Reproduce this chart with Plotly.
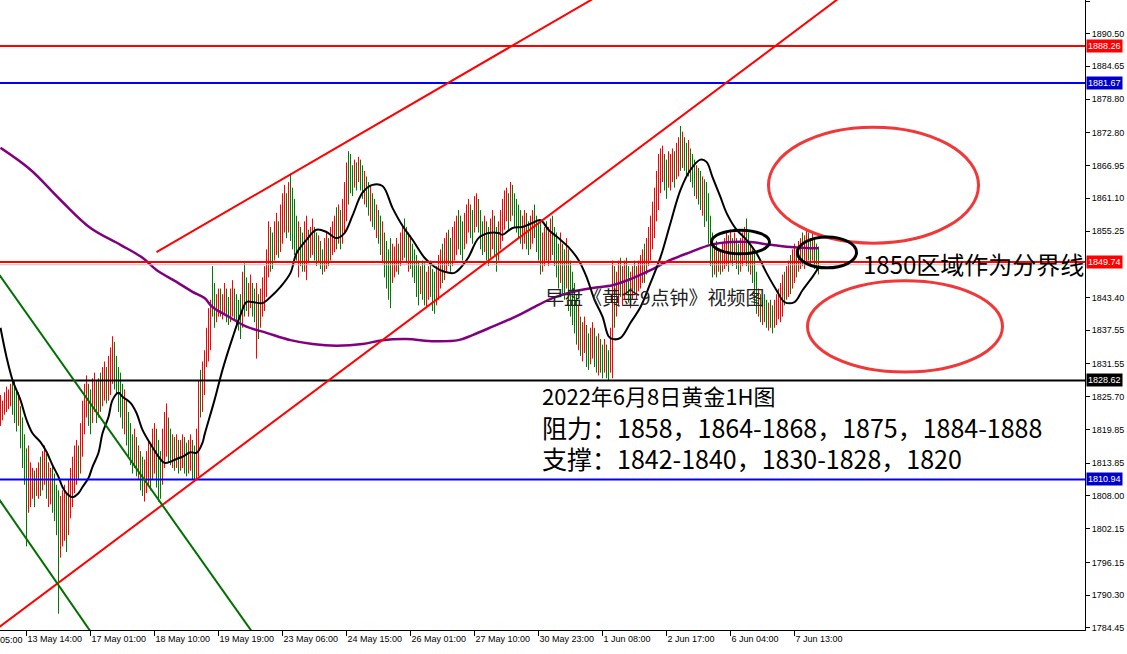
import plotly.graph_objects as go

# ---------------- data ----------------
bar_high = [
    1826.0, 1825.0, 1826.5, 1827.5, 1827.0, 1828.0, 1829.0, 1828.5, 1827.0, 1826.5,
    1824, 1822, 1819, 1816.5, 1817, 1814, 1813, 1812.5, 1813, 1814,
    1815, 1816, 1817, 1815.5, 1814, 1813, 1813.5, 1812, 1810, 1809,
    1808, 1809, 1810, 1808.5, 1811, 1813, 1815, 1817, 1818, 1817,
    1821, 1825, 1828, 1829.5, 1828, 1827, 1829, 1830, 1828.5, 1829,
    1830, 1831, 1832, 1831, 1833, 1834.5, 1836.5, 1835.5, 1833, 1831,
    1830, 1828, 1827, 1825, 1823, 1821, 1819, 1820, 1818.5, 1817,
    1816, 1815, 1814.5, 1816, 1818, 1817.5, 1820, 1821, 1820, 1818,
    1816, 1820, 1823, 1824.5, 1822, 1820, 1819, 1818.5, 1819, 1818,
    1818, 1819, 1818.5, 1817.5, 1818, 1819, 1818, 1817, 1820, 1828.5,
    1830.5, 1832, 1834, 1838, 1841.5, 1843, 1849, 1846, 1844, 1845,
    1845, 1844, 1846, 1845, 1843.5, 1845, 1846.5, 1845, 1844, 1843,
    1844, 1848, 1849.5, 1847, 1846, 1847.5, 1846, 1845, 1846, 1844,
    1845, 1847, 1849, 1852, 1857, 1856, 1855, 1857, 1858.5, 1857,
    1860, 1862, 1863.5, 1862, 1864, 1865.5, 1863, 1861, 1858, 1857,
    1856, 1855, 1857, 1858, 1855.5, 1856, 1857.5, 1856, 1855, 1854.5,
    1853.5, 1852, 1854, 1855, 1854, 1856, 1857, 1858, 1859.5, 1860,
    1859, 1861, 1864, 1867.5, 1869.5, 1869, 1867, 1868, 1867.5, 1868.5,
    1868, 1867, 1866, 1865, 1864, 1863.5, 1862, 1861, 1860, 1859,
    1858, 1857, 1855, 1853.5, 1852, 1854, 1853, 1852.5, 1854, 1853,
    1855, 1856, 1857.5, 1856, 1855, 1854.5, 1853, 1852, 1851, 1850,
    1849, 1850, 1849.5, 1848, 1849, 1850, 1848.5, 1848, 1849, 1851,
    1852, 1853, 1854, 1855, 1855.5, 1854, 1856, 1857, 1858, 1859,
    1858, 1857, 1858.5, 1860, 1861, 1860, 1859, 1861.5, 1862, 1861,
    1859, 1857, 1858, 1857, 1856, 1857.5, 1859, 1858, 1856, 1857,
    1859, 1861, 1862.5, 1863, 1862, 1864, 1863.5, 1862, 1861, 1860,
    1859, 1858, 1859, 1858.5, 1857, 1858, 1859, 1860, 1858, 1857,
    1857, 1855, 1856, 1857, 1856, 1857.5, 1858, 1856, 1855, 1853,
    1855, 1853, 1852, 1854, 1852, 1850, 1848, 1846, 1844, 1842,
    1840, 1839, 1840, 1838.5, 1837, 1838, 1839, 1838, 1836.5, 1837,
    1836, 1835, 1836, 1835, 1834, 1838, 1850, 1849, 1848, 1850,
    1850.5, 1849, 1850, 1850.5, 1849, 1848, 1849, 1850, 1849, 1850,
    1851, 1852, 1853, 1854, 1856, 1858, 1860.5, 1863, 1866, 1869,
    1870, 1870.5, 1869, 1868, 1869.5, 1869, 1870, 1869.5, 1871, 1872,
    1874, 1873, 1872, 1871, 1871.5, 1870, 1869, 1868, 1867, 1866.5,
    1866, 1865, 1864.5, 1864, 1862, 1858, 1855, 1853, 1853.5, 1852,
    1852, 1853, 1854, 1855, 1854.5, 1855.5, 1854, 1855, 1854, 1853,
    1854, 1855, 1856, 1857.5, 1855, 1853, 1852, 1852, 1848, 1845,
    1844, 1843, 1844, 1843, 1842.5, 1843, 1842, 1843, 1844, 1845,
    1846, 1847.5, 1848, 1849, 1850, 1851, 1852, 1853, 1852, 1853.5,
    1854, 1855, 1854.5, 1855.5, 1855, 1854, 1855, 1854, 1853, 1852.5,
]
bar_low = [
    1820.5, 1821.5, 1822.5, 1823.0, 1823.5, 1824.0, 1822.5, 1821.0, 1819.5, 1820.5,
    1816.5, 1813, 1810, 1799, 1805, 1806, 1807.5, 1806, 1808, 1807.5,
    1808, 1809, 1810, 1807.5, 1806, 1806.5, 1805, 1803.5, 1801, 1787,
    1797, 1799, 1800, 1798, 1801, 1804, 1806, 1808.5, 1810, 1811,
    1812, 1815, 1819, 1822, 1820.5, 1819, 1821, 1823, 1821, 1822,
    1823, 1824, 1825, 1824.5, 1825, 1826, 1828, 1827, 1826, 1823,
    1822, 1820, 1819, 1817, 1815, 1813.5, 1812, 1813, 1811.5, 1811,
    1809, 1808, 1807, 1808.5, 1810, 1809, 1811, 1812, 1809.5, 1807,
    1807.5, 1810, 1813, 1815, 1814, 1813.5, 1813, 1812.5, 1813, 1812,
    1812.5, 1813, 1812, 1811.5, 1812, 1812.5, 1811, 1810.5, 1811, 1811.5,
    1822, 1823, 1826, 1831, 1832, 1834, 1840, 1838, 1839, 1840,
    1840, 1839.5, 1840.5, 1839, 1838.5, 1839, 1840, 1839.5, 1838, 1837.5,
    1836, 1838, 1840, 1841, 1840, 1841.5, 1840, 1839, 1832.5, 1836,
    1838, 1840, 1841, 1843.5, 1847, 1848, 1848.5, 1850, 1851, 1850.5,
    1851.5, 1853, 1855, 1854, 1855, 1853.5, 1852, 1851, 1850, 1847,
    1849, 1848, 1848, 1846.5, 1849.5, 1850.5, 1851, 1850, 1849, 1849.5,
    1848.5, 1847.5, 1848, 1848.5, 1849, 1850, 1851, 1851.5, 1852, 1853,
    1852, 1853, 1855, 1857, 1860, 1862, 1861.5, 1863, 1862.5, 1864,
    1862.5, 1861, 1860, 1859.5, 1858, 1857, 1856, 1855.5, 1854, 1853,
    1851, 1849.5, 1847, 1845, 1843, 1841.5, 1846, 1847, 1848, 1847.5,
    1849, 1850, 1850.5, 1849.5, 1848, 1848.5, 1847, 1846, 1843.5, 1842,
    1844, 1843, 1842, 1841.5, 1843, 1843.5, 1841, 1840.5, 1842, 1843,
    1845, 1846, 1846.5, 1848, 1849, 1848, 1849, 1850, 1851, 1852,
    1851, 1850, 1852, 1853, 1855, 1854, 1853, 1855, 1856, 1855,
    1852, 1851, 1851.5, 1850, 1849, 1850.5, 1852, 1851, 1848, 1850,
    1852, 1853.5, 1855.5, 1857, 1855.5, 1857, 1858, 1856, 1855, 1854,
    1853, 1852, 1853, 1852, 1851, 1852, 1853, 1854, 1851.5, 1850,
    1847.5, 1848, 1849, 1850, 1849, 1850, 1851, 1849, 1847, 1845,
    1846, 1844, 1843, 1845, 1841, 1840, 1838.5, 1837, 1835, 1834,
    1833, 1832, 1833.5, 1831, 1830.5, 1831.5, 1832.5, 1831, 1830, 1829.5,
    1830, 1829, 1830, 1829, 1828.5, 1830, 1829, 1838, 1840, 1842,
    1843.5, 1842, 1843, 1844, 1842.5, 1841.5, 1843, 1844, 1843, 1844.5,
    1845, 1846, 1846, 1847.5, 1849, 1850, 1852, 1854, 1857, 1859,
    1862, 1864, 1862.5, 1861, 1863, 1862.5, 1864, 1863, 1864.5, 1865,
    1866, 1866.5, 1866, 1865, 1865, 1864, 1863, 1861.5, 1861, 1860,
    1859, 1858, 1856, 1857, 1853, 1849, 1847, 1847.5, 1847, 1848,
    1847.5, 1848, 1848.5, 1849, 1848, 1849.5, 1849, 1850, 1848.5, 1847.5,
    1848, 1849, 1850, 1849, 1848, 1847.5, 1846, 1842, 1840.5, 1840,
    1839, 1838.5, 1839, 1838, 1837.5, 1838, 1837, 1838, 1838.5, 1839.5,
    1839, 1840, 1842, 1843, 1843.5, 1844, 1845, 1846, 1847, 1848,
    1848.5, 1849, 1848.5, 1849.5, 1850, 1849, 1850, 1848.5, 1848, 1847.5,
]
# R = up bar (red), G = down bar (green)
bar_dir = (
    "RRRRRRGGGR" "GGGGRRRGRR" "GRRGRRGGGG" "RRRGRRRRRG" "RRRRGGRRGR"
    "GRRGRRRGGG" "GGRGGGGRGR" "GGRRRGRRGG" "GRRRGGRGRG" "RRGGRRGGRR"
    "GRRRRRGGRR" "GRRGGRRGGG" "GRGGRRGGRG" "RRRRRGGRRG" "RRRGRGGGGR"
    "GGRRGRRGGR" "GGRRGRRRGR" "GRRRGGGRGR" "GGRGGRGGRG" "GRGGGGRRRG"
    "RRGGRGGGGG" "RGGRRGGGRR" "RGRRGGRRRG" "GGRRRGGRRG" "GGRGGRRGGR"
    "RRRRGRGGGG" "GRRGGRRGGG" "GRRGRRGGGG" "RGGRGGGGGR" "GRRGGRRGGR"
    "GGRGGRRGRR" "GRRGGRRGRR" "RRGRRRRRRR" "RRGGRRRGRR" "GRGGRGGGRG"
    "GRGGGGGRGR" "GRRRGRGRGG" "RRRGGRGGGR" "GRGGRGGRRR" "RRGRRGRRGR"
    "RGRRGGRGGG"
)

# moving averages (bar index, price)
ma_fast_x = [0, 3, 6, 10, 13, 16, 20, 23, 26, 29, 31, 33, 36, 39, 41, 44, 46, 49, 51, 54,
             56, 59, 61, 65, 68, 71, 76, 79, 82, 85, 88, 91, 95, 98, 101, 102, 107, 111, 116, 120,
             123, 126, 131, 135, 140, 145, 148, 153, 158, 163, 168, 172, 176, 181, 186, 191, 196, 201, 206, 212,
             217, 222, 227, 230, 234, 239, 244, 249, 251, 256, 261, 266, 270, 274, 279, 284, 289, 293, 297, 301,
             304, 306, 310, 315, 320, 325, 330, 335, 340, 345, 350, 353, 356, 360, 363, 368, 373, 378, 383, 388,
             392, 397, 401, 406, 409]
ma_fast_y = [1838.0, 1832.8, 1828.7, 1825.1, 1821.6, 1819.2, 1817.6, 1815.9, 1813.5, 1811.4,
             1809.6, 1808.5, 1807.8, 1808.5, 1809.6, 1811.2, 1813.2, 1815.7, 1819.2, 1822.1,
             1825.1, 1826.4, 1825.7, 1824.6, 1822.8, 1819.8, 1816.7, 1815.0, 1813.9, 1814.1,
             1814.6, 1815.0, 1815.8, 1815.7, 1817.5, 1818.9, 1825.1, 1830.5, 1836.2, 1840.3,
             1842.6, 1842.6, 1842.4, 1843.5, 1845.3, 1847.8, 1851.3, 1853.7, 1855.5, 1855.1,
             1854.0, 1854.9, 1858.0, 1862.1, 1863.5, 1863.3, 1859.4, 1856.2, 1853.7, 1850.5,
             1848.9, 1848.0, 1847.8, 1848.7, 1850.6, 1854.0, 1854.9, 1854.9, 1854.6, 1855.8,
             1856.0, 1856.7, 1857.2, 1855.5, 1854.0, 1852.4, 1850.1, 1847.1, 1843.0, 1840.0,
             1836.5, 1836.0, 1836.2, 1838.9, 1841.7, 1846.0, 1850.6, 1856.7, 1862.6, 1866.2,
             1868.0, 1867.6, 1864.9, 1861.3, 1858.5, 1855.5, 1853.7, 1851.3, 1847.8, 1844.7,
             1842.6, 1842.6, 1844.7, 1847.1, 1848.7]
ma_slow_x = [0, 15, 30, 45, 60, 71, 78, 88, 96, 102, 106, 115, 123, 133, 145, 156, 168, 181, 191, 203,
             217, 229, 236, 246, 257, 269, 276, 286, 296, 306, 315, 325, 335, 345, 355, 365, 375, 385, 395, 405, 409]
ma_slow_y = [1870.1, 1866.2, 1860.8, 1855.8, 1852.8, 1850.5, 1848.3, 1846.2, 1844.4, 1843.3,
             1841.7, 1839.8, 1838.2, 1837.1, 1835.8, 1835.1, 1834.8, 1835.1, 1835.8, 1836.0,
             1835.6, 1835.8, 1836.7, 1838.2, 1839.9, 1842.1, 1843.3, 1844.4, 1845.1, 1845.6,
             1846.7, 1848.3, 1850.1, 1851.5, 1852.8, 1853.3, 1853.3, 1852.8, 1852.4, 1852.2, 1852.2]

# horizontal levels: price, colour
levels = [1888.26, 1881.67, 1849.74, 1828.62, 1810.94]
level_colors = ["#FF0000", "#0000FF", "#FF0000", "#000000", "#0000FF"]
tag_colors = ["#FF0000", "#0000CC", "#FF0000", "#000000", "#0000CC"]
bid_price = 1849.25

# trend lines: (x0, y0, x1, y1) in bar index / price
red_lines = [(78, 1851.5, 320, 1901.6), (-10, 1782.1, 420, 1897.0)]
green_lines = [(-0.5, 1847.4, 140, 1776.6), (-0.5, 1807.3, 60, 1776.1)]

# time axis
x_tick_bars = [13, 45, 77, 109, 141, 173, 205, 237, 269, 301, 333, 365, 397]
x_tick_text = ["13 May 14:00", "17 May 01:00", "18 May 10:00", "19 May 19:00", "23 May 06:00",
               "24 May 15:00", "26 May 01:00", "27 May 10:00", "30 May 23:00", "1 Jun 08:00",
               "2 Jun 17:00", "6 Jun 04:00", "7 Jun 13:00"]
y_tick_vals = [1896.30, 1890.50, 1884.65, 1878.80, 1872.80, 1866.95, 1861.10, 1855.25, 1843.40,
               1837.55, 1831.55, 1825.70, 1819.85, 1813.85, 1808.00, 1802.15, 1796.15, 1790.30, 1784.45]

Y_MIN, Y_MAX = 1784.09, 1896.48

# ---------------- figure ----------------
fig = go.Figure()

for flag, col in (("R", "#FF0000"), ("G", "#007A00")):
    xs, ys = [], []
    for i, (h, l) in enumerate(zip(bar_high, bar_low)):
        if bar_dir[i] == flag:
            xs += [i, i, None]
            ys += [l, h, None]
    fig.add_trace(go.Scatter(x=xs, y=ys, mode="lines", line=dict(color=col, width=1),
                             hoverinfo="skip", showlegend=False))

fig.add_trace(go.Scatter(x=ma_slow_x, y=ma_slow_y, mode="lines", line=dict(color="#800080", width=2.5, shape="spline"),
                         showlegend=False, hoverinfo="skip"))
fig.add_trace(go.Scatter(x=ma_fast_x, y=ma_fast_y, mode="lines", line=dict(color="#000000", width=2, shape="spline"),
                         showlegend=False, hoverinfo="skip"))

shapes = []
shapes.append(dict(type="line", xref="paper", x0=0, x1=1, yref="y", y0=bid_price, y1=bid_price,
                   line=dict(color="#C0C0C0", width=1)))
for p, c in zip(levels, level_colors):
    shapes.append(dict(type="line", xref="paper", x0=0, x1=1, yref="y", y0=p, y1=p,
                       line=dict(color=c, width=2)))
for (x0, y0, x1, y1) in red_lines:
    shapes.append(dict(type="line", xref="x", yref="y", x0=x0, y0=y0, x1=x1, y1=y1,
                       line=dict(color="#FF0000", width=2)))
for (x0, y0, x1, y1) in green_lines:
    shapes.append(dict(type="line", xref="x", yref="y", x0=x0, y0=y0, x1=x1, y1=y1,
                       line=dict(color="#007000", width=2)))
# ellipses
shapes += [
    dict(type="circle", xref="x", yref="y", x0=384, x1=489, y0=1853.1, y1=1873.8,
         line=dict(color="#F03838", width=3)),
    dict(type="circle", xref="x", yref="y", x0=403.5, x1=501, y0=1830.1, y1=1846.4,
         line=dict(color="#F03838", width=3)),
    dict(type="circle", xref="x", yref="y", x0=355.5, x1=384.5, y0=1851.2, y1=1855.4,
         line=dict(color="#000000", width=3)),
    dict(type="circle", xref="x", yref="y", x0=398.5, x1=428, y0=1848.7, y1=1854.2,
         line=dict(color="#000000", width=3)),
]

cjk = "Noto Sans CJK SC"
annotations = [
    dict(text="1850区域作为分界线", x=430, y=1849.4, xref="x", yref="y", xanchor="left", yanchor="middle",
         showarrow=False, font=dict(family=cjk, size=24, color="#000000")),
    dict(text="早盘《黄金9点钟》视频图", x=271, y=1843.5, xref="x", yref="y", xanchor="left", yanchor="middle",
         showarrow=False, font=dict(family=cjk, size=19, color="#222222")),
    dict(text="2022年6月8日黄金1H图", x=269.5, y=1826.0, xref="x", yref="y", xanchor="left", yanchor="middle",
         showarrow=False, font=dict(family=cjk, size=22, color="#000000")),
    dict(text="阻力：1858，1864-1868，1875，1884-1888", x=269.5, y=1820.3, xref="x", yref="y", xanchor="left",
         yanchor="middle", showarrow=False, font=dict(family=cjk, size=25, color="#000000")),
    dict(text="支撑：1842-1840，1830-1828，1820", x=269.5, y=1814.8, xref="x", yref="y", xanchor="left",
         yanchor="middle", showarrow=False, font=dict(family=cjk, size=25, color="#000000")),
    # partially visible first time label
    dict(text="12 May 05:00", x=0, y=0, xref="paper", yref="paper", xanchor="right", yanchor="top",
         xshift=25, yshift=-3, showarrow=False, font=dict(family="Liberation Sans", size=9, color="#000000")),
]
# price tags on the right scale
for p, c in zip(levels, tag_colors):
    annotations.append(dict(text=f"{p:.2f}", x=1, y=p, xref="paper", yref="y", xanchor="left", yanchor="middle",
                            xshift=1, showarrow=False, bgcolor=c, borderpad=1,
                            font=dict(family="Liberation Sans", size=9, color="#FFFFFF")))

fig.update_layout(
    width=1127, height=654,
    margin=dict(l=0, r=42, t=0, b=24, autoexpand=False),
    paper_bgcolor="white", plot_bgcolor="white",
    shapes=shapes, annotations=annotations,
    showlegend=False,
    xaxis=dict(range=[-0.25, 542.25], showgrid=False, zeroline=False, showline=True, linecolor="black",
               linewidth=1, ticks="outside", ticklen=5, tickcolor="black", automargin=False, tickangle=0,
               tickvals=x_tick_bars, ticktext=x_tick_text, ticklabelposition="outside right",
               tickfont=dict(family="Liberation Sans", size=9, color="black")),
    yaxis=dict(range=[Y_MIN, Y_MAX], side="right", showgrid=False, zeroline=False, showline=True,
               linecolor="black", linewidth=1, ticks="outside", ticklen=4, tickcolor="black", automargin=False,
               tickvals=y_tick_vals, ticktext=[f"{v:.2f}" for v in y_tick_vals],
               tickfont=dict(family="Liberation Sans", size=9, color="black")),
)

fig.write_html("out.html", config={"displayModeBar": False},
               post_script="document.body.style.margin='0';document.body.style.overflow='hidden';")
